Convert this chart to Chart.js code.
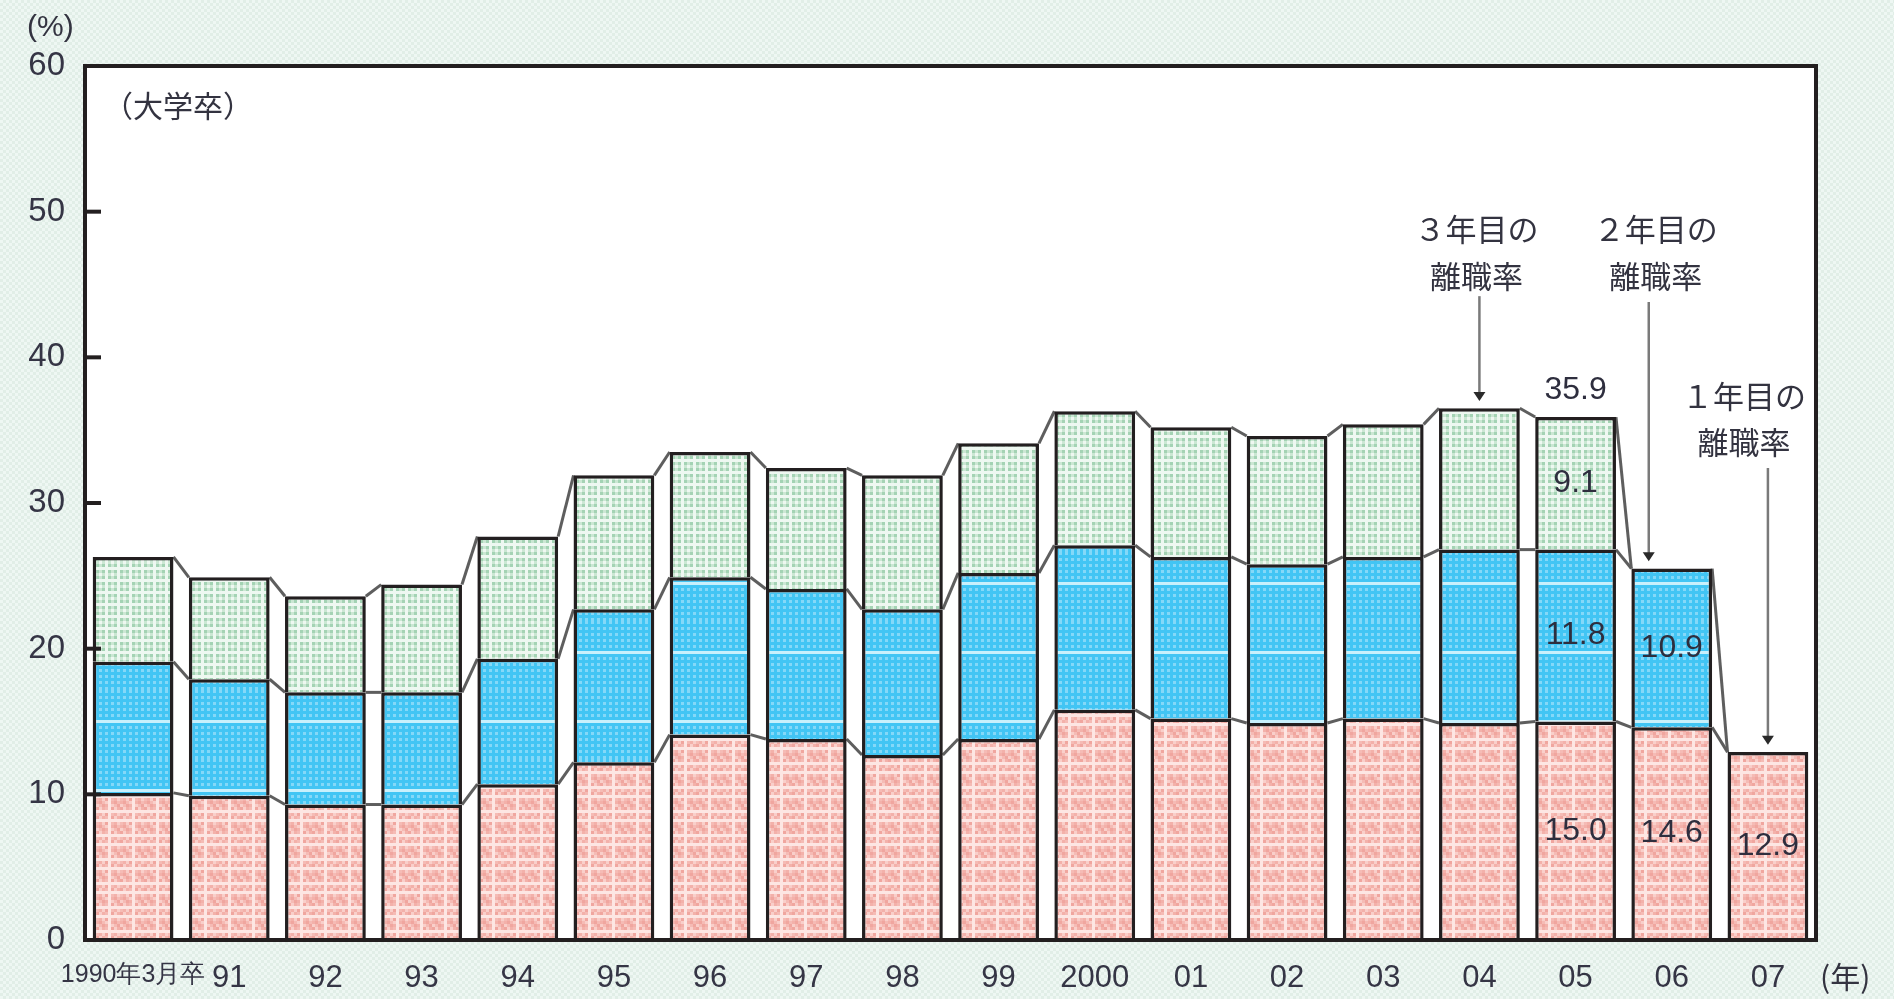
<!DOCTYPE html>
<html>
<head>
<meta charset="utf-8">
<script src="https://cdn.jsdelivr.net/npm/chart.js@4.4.1/dist/chart.umd.min.js"></script>
<style>
  html, body { margin: 0; padding: 0; background: #e7f1ec; }
  canvas { display: block; }
</style>
</head>
<body>
<canvas id="rateChart" width="1894" height="999"></canvas>
<script>
// data (大学卒 離職率, %)
const years = ['1990年3月卒', '91', '92', '93', '94', '95', '96', '97', '98', '99', '2000', '01', '02', '03', '04', '05', '06', '07'];
const firstYear  = [10.1, 9.9, 9.3, 9.3, 10.7, 12.2, 14.1, 13.8, 12.7, 13.8, 15.8, 15.2, 14.9, 15.2, 14.9, 15.0, 14.6, 12.9];
const secondYear = [9.0, 8.0, 7.7, 7.7, 8.6, 10.5, 10.8, 10.3, 10.0, 11.4, 11.3, 11.1, 10.9, 11.1, 11.9, 11.8, 10.9, null];
const thirdYear  = [7.2, 7.0, 6.6, 7.4, 8.4, 9.2, 8.6, 8.3, 9.2, 8.9, 9.2, 8.9, 8.8, 9.1, 9.7, 9.1, null, null];
const yTicks = [0, 10, 20, 30, 40, 50, 60];
const labelledYears = ['05', '06', '07'];
const totalYears = ['05'];

// callouts: category, x offset (px), text rows at values, arrow from/to values
const notes = [
    { year: '04', dx: -3, lines: ['３年目の', '離職率'], at: [48.8, 45.6], arrowDx: 0, from: 44.2, to: 37.0 },
    { year: '06', dx: -16, lines: ['２年目の', '離職率'], at: [48.8, 45.6], arrowDx: -23, from: 43.8, to: 26.0 },
    { year: '07', dx: -24, lines: ['１年目の', '離職率'], at: [37.3, 34.2], arrowDx: 0, from: 32.4, to: 13.4 }
];

const SANS = '"Liberation Sans", Arial, sans-serif';
const CJK = '"Noto Sans CJK JP", "Noto Sans", sans-serif';

function makePattern(w, h, paint) {
    const c = document.createElement('canvas');
    c.width = w; c.height = h;
    const g = c.getContext('2d');
    paint(g);
    return g.createPattern(c, 'repeat');
}

// small dithered textures like the printed original
const pinkFill = makePattern(24, 24, g => {
    const pal = ['#f0a69f', '#f5bbb5', '#f9cfca', '#fde6e3', '#f3b1aa'];
    for (let i = 0; i < 8; i++) for (let j = 0; j < 8; j++) {
        g.fillStyle = pal[(i * 7 + j * 13 + i * j * 3) % 5];
        g.fillRect(i * 3, j * 3, 3, 3);
    }
});
const blueFill = makePattern(24, 69, g => {
    const pal = ['#42c5f4', '#60cef6', '#84d8f8', '#a4e2fa'];
    for (let i = 0; i < 8; i++) for (let j = 0; j < 23; j++) {
        g.fillStyle = pal[(i * 5 + j * 3 + (i ^ j)) % 4];
        g.fillRect(i * 3, j * 3, 3, 3);
    }
    g.fillStyle = '#c8f0fc';
    g.fillRect(0, 30, 24, 3);
});
const greenFill = makePattern(12, 12, g => {
    const col = [0, 1, 0, 2], row = [0, 2, 0, 1];
    const tone = ['#a4d3b4', '#cbe7d3', '#eef8f1'];
    for (let i = 0; i < 4; i++) for (let j = 0; j < 4; j++) {
        g.fillStyle = tone[Math.min(2, col[i] + row[j])];
        g.fillRect(i * 3, j * 3, 3, 3);
    }
});
const pageFill = makePattern(6, 6, g => {
    g.fillStyle = '#e1eee7';
    g.fillRect(0, 0, 6, 6);
    g.fillStyle = '#eef7f3';
    g.fillRect(0, 0, 3, 3);
    g.fillRect(3, 3, 3, 3);
});

function topAt(chart, d, i) {
    for (let k = d; k >= 0; k--) {
        if (chart.data.datasets[k].data[i] != null) return chart.getDatasetMeta(k).data[i].y;
    }
    return chart.scales.y.getPixelForValue(0);
}

const backdrop = {
    id: 'backdrop',
    beforeDraw(chart) {
        const { ctx, chartArea: a } = chart;
        ctx.save();
        ctx.fillStyle = pageFill;
        ctx.fillRect(0, 0, chart.width, chart.height);
        ctx.fillStyle = '#ffffff';
        ctx.fillRect(a.left, a.top, a.right - a.left, a.bottom - a.top);
        ctx.restore();
    }
};

// grey lines joining the segment tops of neighbouring bars
const connectors = {
    id: 'connectors',
    beforeDatasetsDraw(chart) {
        const ctx = chart.ctx;
        const sets = chart.data.datasets;
        ctx.save();
        ctx.strokeStyle = '#5e5e5e';
        ctx.lineWidth = 3;
        sets.forEach((ds, d) => {
            for (let i = 0; i < years.length - 1; i++) {
                if (ds.data[i] == null) continue;
                const a = chart.getDatasetMeta(d).data[i];
                const b = chart.getDatasetMeta(0).data[i + 1];
                ctx.beginPath();
                ctx.moveTo(a.x + a.width / 2, a.y);
                ctx.lineTo(b.x - b.width / 2, topAt(chart, d, i + 1));
                ctx.stroke();
            }
        });
        ctx.restore();
    }
};

const frameAndNotes = {
    id: 'frameAndNotes',
    afterDraw(chart) {
        const { ctx, chartArea: a, scales } = chart;
        const sx = scales.x, sy = scales.y;
        ctx.save();

        // frame and inward ticks
        ctx.strokeStyle = '#231f20';
        ctx.lineWidth = 4;
        ctx.strokeRect(a.left, a.top, a.right - a.left, a.bottom - a.top);
        yTicks.forEach(v => {
            const y = sy.getPixelForValue(v);
            ctx.beginPath();
            ctx.moveTo(a.left, y);
            ctx.lineTo(a.left + 16, y);
            ctx.stroke();
        });

        // values inside the last bars
        ctx.fillStyle = '#2e2e3e';
        ctx.font = '32px ' + SANS;
        ctx.textAlign = 'center';
        ctx.textBaseline = 'middle';
        labelledYears.forEach(yr => {
            const i = years.indexOf(yr);
            chart.data.datasets.forEach((ds, d) => {
                if (ds.data[i] == null) return;
                const el = chart.getDatasetMeta(d).data[i];
                ctx.fillText(ds.data[i].toFixed(1), el.x, (el.y + el.base) / 2);
            });
        });
        totalYears.forEach(yr => {
            const i = years.indexOf(yr);
            const total = chart.data.datasets.reduce((s, ds) => s + (ds.data[i] || 0), 0);
            const el = chart.getDatasetMeta(0).data[i];
            ctx.fillText(total.toFixed(1), el.x, topAt(chart, 2, i) - 27);
        });

        // callouts with arrows
        notes.forEach(n => {
            const cx = sx.getPixelForValue(years.indexOf(n.year));
            ctx.fillStyle = '#333340';
            ctx.font = '31px ' + CJK;
            n.lines.forEach((t, k) => ctx.fillText(t, cx + n.dx, sy.getPixelForValue(n.at[k])));
            const ax = cx + n.arrowDx;
            const y0 = sy.getPixelForValue(n.from), y1 = sy.getPixelForValue(n.to);
            ctx.strokeStyle = '#7a7a7a';
            ctx.lineWidth = 2.5;
            ctx.beginPath();
            ctx.moveTo(ax, y0);
            ctx.lineTo(ax, y1 - 6);
            ctx.stroke();
            ctx.fillStyle = '#2a2a2a';
            ctx.beginPath();
            ctx.moveTo(ax - 6, y1 - 9);
            ctx.lineTo(ax + 6, y1 - 9);
            ctx.lineTo(ax, y1);
            ctx.closePath();
            ctx.fill();
        });

        // captions
        ctx.fillStyle = '#333340';
        ctx.textAlign = 'left';
        ctx.font = '30px ' + CJK;
        ctx.fillText('（大学卒）', a.left + 18, a.top + 40);
        ctx.font = '30px ' + SANS;
        ctx.fillText('(%)', 27, 28);
        ctx.font = '30px ' + CJK;
        ctx.fillText('(年)', a.right + 4, sx.bottom - 22);
        ctx.restore();
    }
};

window.onload = function() {
    const el = document.getElementById('rateChart');
    const barStyle = {
        borderColor: '#231f20',
        borderWidth: 3.5,
        barPercentage: 0.84,
        categoryPercentage: 1
    };

    new Chart(el.getContext('2d'), {
        type: 'bar',
        data: {
            labels: years,
            datasets: [
                { label: '1年目', data: firstYear, backgroundColor: pinkFill, ...barStyle },
                { label: '2年目', data: secondYear, backgroundColor: blueFill, ...barStyle },
                { label: '3年目', data: thirdYear, backgroundColor: greenFill, ...barStyle }
            ]
        },
        options: {
            responsive: false,
            animation: false,
            devicePixelRatio: 1,
            layout: { padding: { top: 66, right: 78, left: 0, bottom: 0 } },
            plugins: {
                legend: { display: false },
                tooltip: { enabled: false }
            },
            scales: {
                x: {
                    stacked: true,
                    grid: { display: false, drawTicks: false },
                    border: { display: false },
                    ticks: {
                        color: '#353545',
                        autoSkip: false,
                        maxRotation: 0,
                        padding: 20,
                        font: c => ({ family: SANS, size: c.index === 0 ? 25 : 31 })
                    },
                    afterFit: s => { s.height = 59; }
                },
                y: {
                    stacked: true,
                    min: 0,
                    max: 60,
                    grid: { display: false, drawTicks: false },
                    border: { display: false },
                    afterBuildTicks: s => { s.ticks = yTicks.map(v => ({ value: v })); },
                    ticks: {
                        color: '#353545',
                        padding: 20,
                        font: { family: SANS, size: 33 }
                    },
                    afterFit: s => { s.width = 85; }
                }
            }
        },
        plugins: [backdrop, connectors, frameAndNotes]
    });
};
</script>
</body>
</html>
